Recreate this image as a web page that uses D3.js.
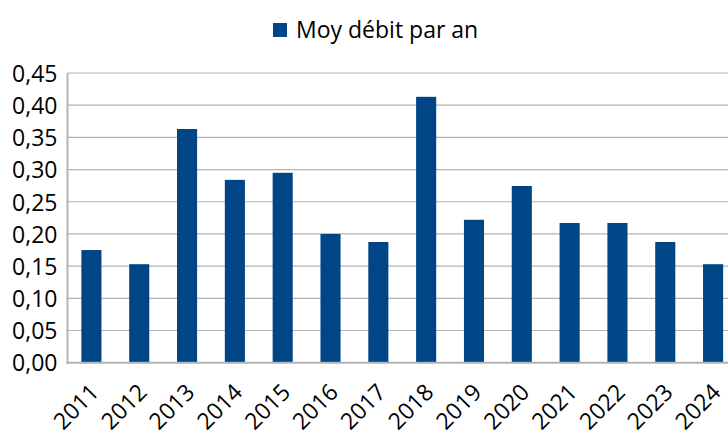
<!DOCTYPE html>
<html>
<head>
<meta charset="utf-8">
<script src="https://cdn.jsdelivr.net/npm/d3@7"></script>
<style>
  body { margin: 0; background: #fff; }
  svg { display: block; font-family: "Open Sans", sans-serif; }
</style>
</head>
<body>
<div id="graph"></div>
<script>
// data
var years = ['2011', '2012', '2013', '2014', '2015', '2016', '2017',
             '2018', '2019', '2020', '2021', '2022', '2023', '2024']
var debit = [0.175, 0.153, 0.363, 0.284, 0.295, 0.200, 0.1875,
             0.413, 0.222, 0.2745, 0.217, 0.217, 0.1875, 0.153]
var yTicks = [0, 0.05, 0.10, 0.15, 0.20, 0.25, 0.30, 0.35, 0.40, 0.45]
var seriesName = 'Moy débit par an'

var W = 728, H = 436
var plotL = 67.5, plotR = 737, plotT = 73, plotB = 362.7

var svg = d3.select('#graph').append('svg')
    .attr('width', W).attr('height', H)

// scales
var x = d3.scaleBand()
    .domain(years)
    .range([plotL, plotR])
    .paddingInner(0.58)
    .paddingOuter(0.29)
var y = d3.scaleLinear().domain([0, 0.45]).range([plotB, plotT])

var fmt = function(d){ return d3.format('.2f')(d).replace('.', ',') }

// gridlines
svg.append('g').selectAll('line')
    .data(yTicks.slice(1))
    .enter().append('line')
    .attr('x1', plotL).attr('x2', W)
    .attr('y1', d => y(d)).attr('y2', d => y(d))
    .attr('stroke', '#b3b3b3').attr('stroke-width', 1.2)

// bars
svg.append('g').selectAll('rect')
    .data(debit)
    .enter().append('rect')
    .attr('x', (d, i) => x(years[i]))
    .attr('y', d => y(d))
    .attr('width', x.bandwidth())
    .attr('height', d => plotB - y(d))
    .attr('fill', '#004586')

// axis lines
svg.append('line')
    .attr('x1', plotL).attr('x2', plotL).attr('y1', plotT).attr('y2', plotB + 1)
    .attr('stroke', '#b3b3b3').attr('stroke-width', 2)
svg.append('line')
    .attr('x1', plotL - 1).attr('x2', W).attr('y1', plotB).attr('y2', plotB)
    .attr('stroke', '#b3b3b3').attr('stroke-width', 2)

// y axis labels
var yAxis = svg.append('g')
    .attr('transform', 'translate(' + (plotL - 10) + ',0)')
    .call(d3.axisLeft(y).tickValues(yTicks).tickFormat(fmt).tickSize(0).tickPadding(0))
yAxis.select('.domain').remove()
yAxis.selectAll('text')
    .attr('dy', '0.36em')
    .style('font-size', '23px')
    .style('font-family', '"Open Sans", sans-serif')
    .attr('fill', '#000')

// x axis labels
var xAxis = svg.append('g')
    .attr('transform', 'translate(0,' + plotB + ')')
    .call(d3.axisBottom(x).tickSize(0).tickPadding(0))
xAxis.select('.domain').remove()
xAxis.selectAll('text')
    .attr('y', 0).attr('dy', 0)
    .attr('transform', 'translate(9,31) rotate(-45)')
    .style('text-anchor', 'end')
    .style('font-size', '23px')
    .style('font-family', '"Open Sans", sans-serif')
    .attr('fill', '#000')

// legend
svg.append('rect')
    .attr('x', 273).attr('y', 23).attr('width', 14).attr('height', 14)
    .attr('fill', '#004586')
svg.append('text')
    .attr('x', 296).attr('y', 38)
    .style('font-size', '23px')
    .attr('fill', '#000')
    .text(seriesName)
</script>
</body>
</html>
